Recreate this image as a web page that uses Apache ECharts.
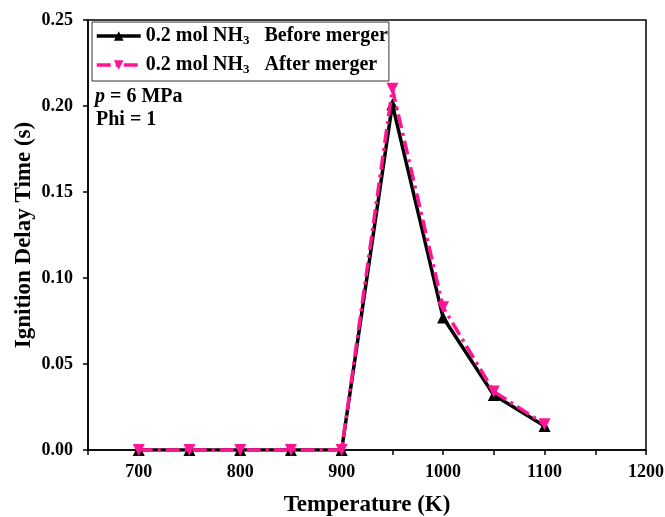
<!DOCTYPE html>
<html>
<head>
<meta charset="utf-8">
<script src="https://cdn.jsdelivr.net/npm/echarts@6/dist/echarts.min.js"></script>
<style>
  html, body { margin: 0; padding: 0; background: #fff; }
  #main { width: 665px; height: 517px; }
</style>
</head>
<body>
<div id="main"></div>
<script>
// temperatures (K)
const temps = [700, 750, 800, 850, 900, 950, 1000, 1050, 1100];
// ignition delay time (s)
const beforeMerger = [0, 0, 0, 0, 0, 0.201, 0.077, 0.032, 0.014];
const afterMerger = [0, 0, 0, 0, 0, 0.210, 0.083, 0.034, 0.015];

const seriesNames = ['before', 'after'];
const legendText = {
  before: '0.2 mol NH{sub|3}   Before merger',
  after: '0.2 mol NH{sub|3}   After merger'
};

const FONT = '"Liberation Serif", "Times New Roman", serif';
const PINK = '#FF1493';

const chart = echarts.init(document.getElementById('main'));

function pairs(ys) {
  return temps.map((t, i) => [t, ys[i]]);
}

const option = {
  animation: false,
  backgroundColor: '#fff',
  textStyle: { fontFamily: FONT, fontWeight: 'bold', color: '#000' },
  grid: {
    left: 88, right: 19, top: 20, bottom: 67,
    outerBoundsMode: 'none',
    containLabel: false,
    show: true, borderColor: '#000', borderWidth: 1.5
  },
  legend: {
    left: 92, top: 22,
    orient: 'vertical',
    data: seriesNames,
    itemWidth: 44, itemHeight: 12, itemGap: 8,
    padding: [4, 1, 5, 3],
    borderColor: '#333', borderWidth: 1,
    lineStyle: { width: 3.5 },
    formatter: name => legendText[name],
    textStyle: {
      fontFamily: FONT, fontWeight: 'bold', fontSize: 20, color: '#000',
      rich: {
        sub: { fontFamily: FONT, fontWeight: 'bold', fontSize: 13, verticalAlign: 'bottom', padding: [9, 0, 0, 0] }
      }
    }
  },
  xAxis: {
    type: 'value',
    min: 650, max: 1200, interval: 50,
    name: 'Temperature (K)',
    nameLocation: 'middle',
    nameGap: 44,
    nameTextStyle: { fontFamily: FONT, fontWeight: 'bold', fontSize: 23, color: '#000' },
    axisLine: { onZero: false, lineStyle: { color: '#000', width: 1.5 } },
    axisTick: { show: true, length: 5, inside: false, lineStyle: { color: '#000', width: 1.5 } },
    splitLine: { show: false },
    axisLabel: {
      margin: 13,
      fontFamily: FONT, fontWeight: 'bold', fontSize: 18, color: '#000',
      formatter: v => (v % 100 === 0 ? String(v) : '')
    }
  },
  yAxis: {
    type: 'value',
    min: 0, max: 0.25, interval: 0.05,
    name: 'Ignition Delay Time (s)',
    nameLocation: 'middle',
    nameGap: 52,
    nameMoveOverlap: false,
    nameTextStyle: { fontFamily: FONT, fontWeight: 'bold', fontSize: 23, color: '#000' },
    axisLine: { lineStyle: { color: '#000', width: 1.5 } },
    axisTick: { show: true, length: 5, lineStyle: { color: '#000', width: 1.5 } },
    splitLine: { show: false },
    axisLabel: {
      margin: 15,
      fontFamily: FONT, fontWeight: 'bold', fontSize: 18, color: '#000',
      formatter: v => v.toFixed(2)
    }
  },
  graphic: [
    {
      type: 'text', left: 95, top: 87,
      style: {
        text: '{i|p} = 6 MPa',
        font: 'bold 20px ' + FONT,
        fill: '#000',
        rich: { i: { fontStyle: 'italic', fontWeight: 'bold', fontFamily: FONT, fontSize: 20 } }
      }
    },
    {
      type: 'text', left: 96, top: 110,
      style: { text: 'Phi = 1', font: 'bold 20px ' + FONT, fill: '#000' }
    }
  ],
  series: [
    {
      name: 'before',
      type: 'line',
      data: pairs(beforeMerger),
      symbol: 'triangle',
      symbolSize: 12,
      itemStyle: { color: '#000' },
      lineStyle: { color: '#000', width: 3.5 },
      z: 2
    },
    {
      name: 'after',
      type: 'line',
      data: pairs(afterMerger),
      symbol: 'triangle',
      symbolRotate: 180,
      symbolSize: 12,
      itemStyle: { color: PINK },
      lineStyle: { color: PINK, width: 3.5, type: [14, 5, 3, 5] },
      z: 3
    }
  ]
};

chart.setOption(option);
</script>
</body>
</html>
